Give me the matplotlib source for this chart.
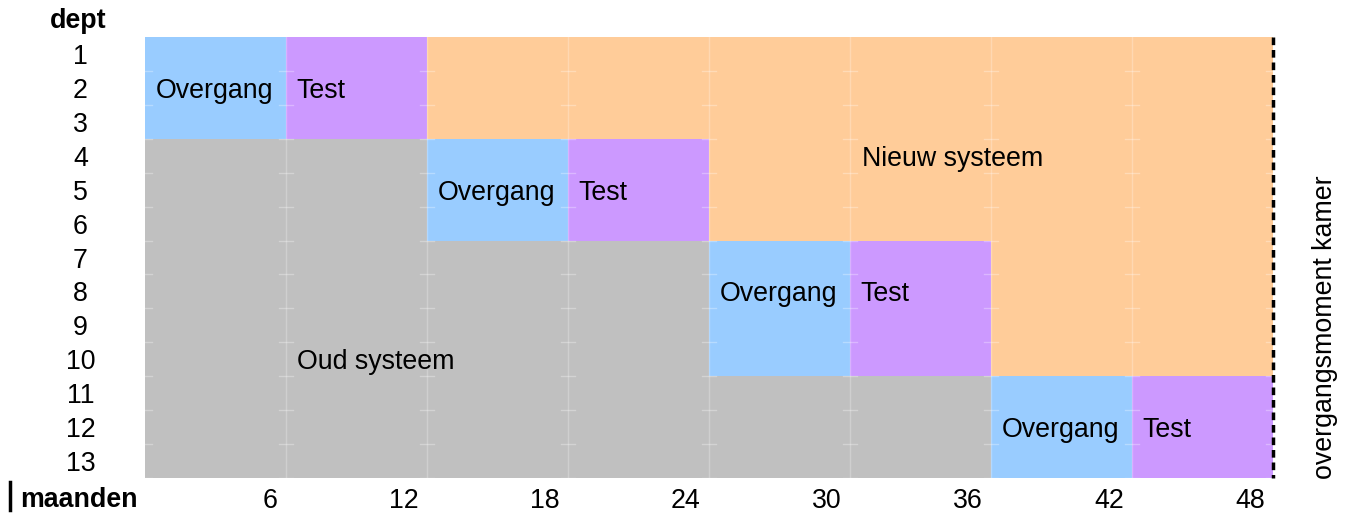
import matplotlib
matplotlib.use("Agg")
import matplotlib.pyplot as plt

plt.rcParams['font.family'] = ['Liberation Sans', 'DejaVu Sans']

# ---- data ----
depts = list(range(1, 14))
month_ticks = [6, 12, 18, 24, 30, 36, 42, 48]
group_first = [1, 4, 7, 11]
group_last = [3, 6, 10, 13]
oud_end = [0, 12, 24, 36]
overgang_start = [0, 12, 24, 36]
overgang_end = [6, 18, 30, 42]
test_start = [6, 18, 30, 42]
test_end = [12, 24, 36, 48]
nieuw_end = [48, 48, 48, 48]
total_months = 48

c_oud = '#C0C0C0'
c_over = '#99CCFF'
c_test = '#CC99FF'
c_new = '#FFCC99'

fig = plt.figure(figsize=(13.49, 5.13), dpi=100)
ax = fig.add_axes([145/1349, 1-478/513, (1273-145)/1349, (478-37)/513])

for i in range(len(group_first)):
    yc = (group_first[i] + group_last[i]) / 2
    h = group_last[i] - group_first[i] + 1
    segs = [
        (0, oud_end[i], c_oud),
        (overgang_start[i], overgang_end[i], c_over),
        (test_start[i], test_end[i], c_test),
        (test_end[i], nieuw_end[i], c_new),
    ]
    for s, e, c in segs:
        if e > s:
            ax.barh(yc, e - s, left=s, height=h, color=c, edgecolor='none', linewidth=0)

# faint grid
for m in [0] + month_ticks[:-1]:
    if m > 0:
        ax.axvline(m, color='white', alpha=0.25, lw=1, zorder=3)
    for r in range(1, 14):
        ax.plot([m - 0.3, m + 0.3], [r + 0.5, r + 0.5], color='white', alpha=0.3, lw=1, zorder=3)
for r in range(1, 14):
    ax.plot([total_months - 0.3, total_months], [r + 0.5, r + 0.5], color='white', alpha=0.3, lw=1, zorder=3)

ax.set_xlim(0, total_months)
ax.set_ylim(13.5, 0.5)
ax.set_xticks([])
ax.set_yticks([])
for sp in ax.spines.values():
    sp.set_visible(False)

fs = 19.3
dy = 0.09
# dept labels
for d in depts:
    ax.text(-2.75, d + dy, str(d), ha='center', va='center', fontsize=fs)
ax.text(-2.85, 0.02, 'dept', ha='center', va='center', fontsize=fs, fontweight='bold')

# month labels
for m in month_ticks:
    ax.text(m - 0.35, 14.1 + dy, str(m), ha='right', va='center', fontsize=fs)
fig.text(20/1349, 1-500/513, 'maanden', ha='left', va='center', fontsize=fs, fontweight='bold')
fig.add_artist(plt.Line2D([10/1349, 10/1349], [1-510/513, 1-482/513], color='black', lw=2.5))

# dashed line
ax.plot([total_months, total_months], [0.5, 13.5], color='black', lw=2.5, ls=(0, (2.2, 1.4)),
        zorder=4, clip_on=False)

fig.text(1325/1349, 1-327/513, 'overgangsmoment kamer', rotation=90, ha='center', va='center', fontsize=fs)

# block labels
for (r, x0), ts in zip([(2, 0), (5, 12), (8, 24), (12, 36)], test_start):
    ax.text(x0 + 0.45, r + dy, 'Overgang', ha='left', va='center', fontsize=fs)
    ax.text(ts + 0.45, r + dy, 'Test', ha='left', va='center', fontsize=fs)
ax.text(30.5, 4 + dy, 'Nieuw systeem', ha='left', va='center', fontsize=fs)
ax.text(6.45, 10 + dy, 'Oud systeem', ha='left', va='center', fontsize=fs)

fig.savefig('out.png', dpi=100)
